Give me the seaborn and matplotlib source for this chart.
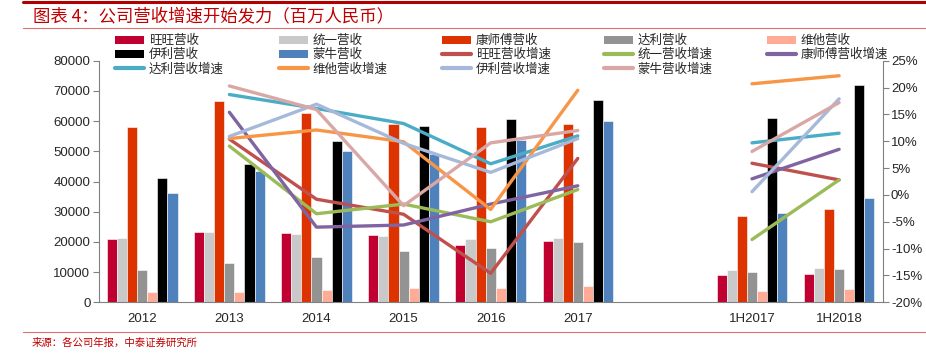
import numpy as np
import pandas as pd
import matplotlib
matplotlib.use("Agg")
import matplotlib.pyplot as plt
from matplotlib.lines import Line2D
from matplotlib.patches import Patch
import seaborn as sns

# --- data --------------------------------------------------------------
categories = ["2012", "2013", "2014", "2015", "2016", "2017", " ", "1H2017", "1H2018"]

bar_names = ["旺旺营收", "统一营收", "康师傅营收", "达利营收", "维他营收", "伊利营收", "蒙牛营收"]
wangwang = [21000, 23300, 23100, 22300, 19000, 20300, np.nan, 8900, 9300]
tongyi = [21400, 23300, 22500, 22100, 21000, 21300, np.nan, 10800, 11300]
kangshifu = [58000, 66700, 62800, 59200, 58200, 59000, np.nan, 28700, 30900]
dali = [10800, 12900, 14900, 16900, 17900, 19900, np.nan, 9900, 11000]
vita = [3300, 3500, 4100, 4600, 4900, 5300, np.nan, 3750, 4400]
yili = [41200, 45700, 53300, 58300, 60700, 67000, np.nan, 61100, 72100]
mengniu = [36100, 43500, 50000, 49100, 53800, 60200, np.nan, 29500, 34500]

line_names = ["旺旺营收增速", "统一营收增速", "康师傅营收增速", "达利营收增速",
              "维他营收增速", "伊利营收增速", "蒙牛营收增速"]
wangwang_g = [np.nan, 10.4, -0.8, -3.6, -14.6, 6.8, np.nan, 5.9, 2.8]
tongyi_g = [np.nan, 9.1, -3.5, -1.7, -5.0, 1.0, np.nan, -8.3, 2.8]
kangshifu_g = [np.nan, 15.4, -6.0, -5.6, -1.7, 1.7, np.nan, 3.0, 8.5]
dali_g = [np.nan, 18.7, 16.1, 13.3, 5.8, 11.0, np.nan, 9.7, 11.5]
vita_g = [np.nan, 10.5, 12.1, 9.9, -2.7, 19.5, np.nan, 20.7, 22.2]
yili_g = [np.nan, 10.9, 16.9, 9.6, 4.2, 10.5, np.nan, 0.6, 17.9]
mengniu_g = [np.nan, 20.3, 15.9, -2.0, 9.7, 12.0, np.nan, 8.1, 17.2]

bar_colors = ["#C00030", "#C9C9C9", "#DD3300", "#939393", "#FFAB95", "#000000", "#4F81BD"]
line_colors = ["#C0504D", "#9BBB59", "#8064A2", "#4BACC6", "#F79646", "#A6B9DA", "#D9A7A5"]

# --- long-form tables --------------------------------------------------
bar_series = [wangwang, tongyi, kangshifu, dali, vita, yili, mengniu]
rows = []
for name, vals in zip(bar_names, bar_series):
    for cat, v in zip(categories, vals):
        if not np.isnan(v):
            rows.append({"cat": cat, "company": name, "rev": v})
bars_df = pd.DataFrame(rows)

line_series = [wangwang_g, tongyi_g, kangshifu_g, dali_g, vita_g, yili_g, mengniu_g]
rows = []
for name, vals in zip(line_names, line_series):
    seg = 0
    for i, v in enumerate(vals):
        if np.isnan(v):
            seg += 1
            continue
        rows.append({"pos": i, "series": name, "seg": seg, "g": v})
lines_df = pd.DataFrame(rows)

# --- plot --------------------------------------------------------------
sns.set_theme(style="white")
plt.rcParams["font.family"] = ["Liberation Sans", "Noto Sans CJK SC", "DejaVu Sans"]
cjk = ["Noto Sans CJK SC", "DejaVu Sans"]

fig = plt.figure(figsize=(9.26, 3.54), dpi=100)
ax = fig.add_axes([0.1066, 0.146, 0.8466, 0.6825])

sns.barplot(data=bars_df, x="cat", y="rev", hue="company", order=categories,
            hue_order=bar_names, palette=bar_colors, saturation=1, width=0.81, gap=0,
            edgecolor="white", linewidth=0.4, errorbar=None, legend=False, ax=ax)

ax2 = ax.twinx()
sns.lineplot(data=lines_df, x="pos", y="g", hue="series", units="seg",
             estimator=None, hue_order=line_names, palette=line_colors,
             linewidth=2.4, legend=False, sort=False, ax=ax2)

# axes cosmetics
ax.set_xlim(-0.5, len(categories) - 0.5)
ax.set_ylim(0, 80000)
ax.set_yticks(np.arange(0, 80001, 10000))
ax2.set_ylim(-20, 25)
ax2.set_yticks(np.arange(-20, 26, 5))
ax2.set_yticklabels([f"{v}%" for v in range(-20, 26, 5)])
ax.set_xlabel("")
ax.set_ylabel("")
ax2.set_xlabel("")
ax2.set_ylabel("")

ax.set_xticks(np.arange(-0.5, len(categories), 1.0))
ax.set_xticklabels([])
ax.set_xticks(np.arange(len(categories)), minor=True)
ax.set_xticklabels(categories, minor=True)
ax.tick_params(axis="x", which="major", length=4, width=0.8, color="#808080", direction="out")
ax.tick_params(axis="x", which="minor", length=0, pad=8, labelsize=9.5)
ax.tick_params(axis="y", length=4, width=0.8, color="#808080", direction="out",
               labelsize=9.5, pad=2)
ax2.tick_params(axis="y", length=4, width=0.8, color="#808080", direction="out",
                labelsize=9.5, pad=2)

for a in (ax, ax2):
    a.spines["top"].set_visible(False)
    for side in ("left", "right", "bottom"):
        a.spines[side].set_color("#808080")
        a.spines[side].set_linewidth(0.8)
ax.spines["right"].set_visible(False)
ax2.spines["left"].set_visible(False)
ax2.spines["bottom"].set_visible(False)
ax.grid(False)
ax2.grid(False)

# --- legend (row-major, 5 columns) ------------------------------------
handles = [Patch(facecolor=c, edgecolor="none") for c in bar_colors]
handles += [Line2D([], [], color=c, linewidth=3) for c in line_colors]
labels = bar_names + line_names
col_x = [115, 279, 442, 604, 767]
for c, x0 in enumerate(col_x):
    idx = [r * 5 + c for r in range(3) if r * 5 + c < len(labels)]
    fig.legend([handles[i] for i in idx], [labels[i] for i in idx],
               loc="upper left", bbox_to_anchor=(x0 / 926, 1 - 34 / 354),
               frameon=False, borderpad=0, borderaxespad=0, handlelength=2.3,
               handleheight=0.6, handletextpad=0.4, labelspacing=0.1,
               prop={"family": cjk, "size": 9})

# --- header / footer ---------------------------------------------------
red = "#C00000"
fig.add_artist(Line2D([23 / 926, 1], [1 - 2 / 354] * 2, color="#B00000", linewidth=2.2))
fig.add_artist(Line2D([23 / 926, 1], [1 - 28 / 354] * 2, color="#E07070", linewidth=0.8))
fig.add_artist(Line2D([23 / 926, 1], [1 - 332 / 354] * 2, color="#E07070", linewidth=0.8))
fig.text(33 / 926, 1 - 16 / 354, "图表 4：公司营收增速开始发力（百万人民币）",
         color=red, fontsize=12.5, fontweight="medium", va="center", ha="left", family=cjk)
fig.text(32 / 926, 1 - 343 / 354, "来源：各公司年报，中泰证券研究所",
         color=red, fontsize=7.5, va="center", ha="left", family=cjk)

fig.savefig("out.png", dpi=100)
